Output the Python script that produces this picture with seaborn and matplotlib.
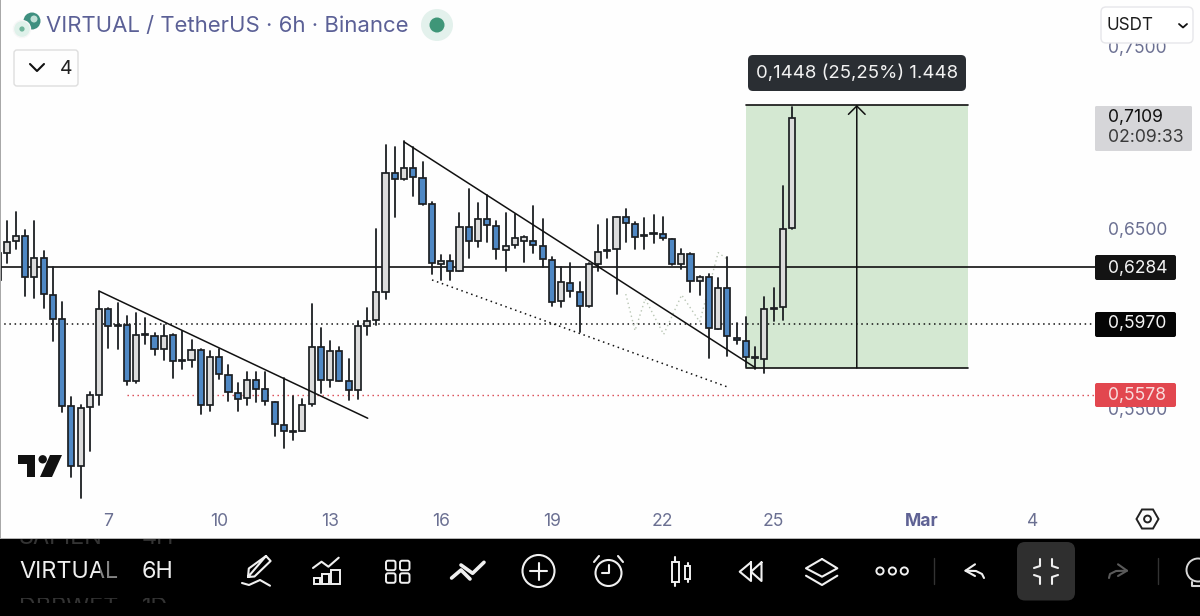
import numpy as np
import pandas as pd
import matplotlib
matplotlib.use("Agg")
import matplotlib.pyplot as plt
from matplotlib.patches import FancyBboxPatch, Rectangle, Circle, RegularPolygon, Polygon
import seaborn as sns

# ---------- data (prices) ----------
opens = [.6212,.6361,.6430,.6457,.6229,.6332,.6129,.5995,.5516,.5185,.5509,.5579,.6050,.5965,.5965,.5654,.5912,.5903,.5833,.5907,.5770,.5772,.5827,.5520,.5785,.5689,.5590,.5562,.5660,.5608,.5539,.5411,.5378,.5380,.5525,.5840,.5660,.5818,.5652,.5605,.5958,.5993,.6148,.6802,.6772,.6831,.6774,.6631,.6303,.6319,.6264,.6503,.6430,.6551,.6509,.6380,.6404,.6430,.6426,.6400,.6325,.6095,.6198,.6144,.6069,.6301,.6380,.6386,.6559,.6524,.6459,.6470,.6465,.6437,.6303,.6354,.6207,.6229,.5944,.6170,.5894,.5877,.5787,.5776,.6054,.6061,.6500]
closes = [.6360,.6424,.6457,.6229,.6332,.6135,.5997,.5518,.5185,.5503,.5575,.6054,.5958,.5958,.5656,.5907,.5907,.5833,.5903,.5765,.5765,.5827,.5520,.5785,.5695,.5593,.5557,.5660,.5612,.5542,.5415,.5376,.5372,.5522,.5840,.5660,.5818,.5654,.5603,.5956,.5988,.6144,.6802,.6770,.6831,.6780,.6632,.6305,.6316,.6264,.6507,.6428,.6550,.6515,.6384,.6400,.6445,.6448,.6404,.6327,.6093,.6200,.6150,.6069,.6301,.6367,.6373,.6559,.6526,.6452,.6454,.6465,.6443,.6303,.6356,.6207,.6229,.5945,.6170,.5901,.5881,.5785,.5782,.6054,.6060,.6496,.7109]
highs = [.6360,.6540,.6588,.6489,.6540,.6374,.6282,.6089,.5564,.5522,.5595,.6150,.6059,.6087,.6015,.6030,.6004,.5918,.5964,.5914,.5930,.5881,.5829,.5822,.5829,.5743,.5641,.5702,.5702,.5706,.5540,.5671,.5571,.5557,.6080,.5945,.5877,.5844,.5778,.5986,.6059,.6492,.6958,.6949,.6982,.6949,.6864,.6645,.6351,.6351,.6581,.6713,.6640,.6680,.6538,.6585,.6577,.6456,.6621,.6548,.6338,.6286,.6308,.6203,.6305,.6516,.6548,.6559,.6607,.6535,.6557,.6572,.6561,.6441,.6382,.6360,.6235,.6246,.6222,.6341,.5973,.6006,.5844,.6117,.6166,.6734,.7170]
lows = [.6212,.6304,.6382,.6124,.6111,.6059,.5873,.5483,.5124,.5011,.5266,.5520,.5837,.5829,.5634,.5645,.5857,.5800,.5770,.5674,.5719,.5730,.5470,.5487,.5667,.5546,.5487,.5523,.5538,.5523,.5350,.5284,.5328,.5378,.5516,.5590,.5623,.5652,.5549,.5558,.5907,.5962,.6105,.6559,.6765,.6677,.6625,.6246,.6213,.6213,.6264,.6334,.6393,.6424,.6329,.6264,.6387,.6312,.6360,.6282,.6069,.6061,.6120,.5927,.6061,.6264,.6334,.6135,.6422,.6384,.6382,.6419,.6433,.6295,.6271,.6146,.6131,.5782,.5940,.5793,.5859,.5734,.5723,.5701,.5984,.5992,.6496]

hline_solid = 0.6284
hline_dotted = 0.5970
hline_red = 0.5578
range_low, range_high = 0.5727, 0.7180
y_ticks = [0.55, 0.60, 0.65, 0.70, 0.75]
y_tick_labels = ["0,5500", "0,6000", "0,6500", "0,7000", "0,7500"]
x_tick_labels = ["7", "10", "13", "16", "19", "22", "25", "Mar", "4"]
x_tick_pos = [10, 22, 34, 46, 58, 70, 82, 98, 110]
trend_a_x, trend_a_y = [9.06, 38.07], [.6150, .5449]
trend_b_x, trend_b_y = [42.03, 80.06], [.6975, .5727]
trend_c_x, trend_c_y = [45.03, 77.1], [.6213, .5620]
zig_x = [66, 67, 68.1, 70.1, 72.05, 74, 76, 77]
zig_y = [.6135, .5933, .6108, .5912, .6130, .5982, .6364, .6327]

W, H = 1200, 616
AX_R, AX_B = 1095, 510
DX = 9.24
Y650, YK = 228.0, 1810.0

sns.set_theme(style="white")
plt.rcParams["font.family"] = ["Inter", "DejaVu Sans"]

fig = plt.figure(figsize=(12, 6.16), dpi=100, facecolor="#fefefe")
ax = fig.add_axes([0, (H - AX_B) / H, AX_R / W, AX_B / H], facecolor="#fefefe")

df = pd.DataFrame({"o": opens, "c": closes, "h": highs, "l": lows})
df["i"] = np.arange(len(df)) - 2
df["bottom"] = df[["o", "c"]].min(axis=1)
df["size"] = (df["o"] - df["c"]).abs()
up = df[df["c"] > df["o"]]
down = df[df["c"] <= df["o"]]

EDGE = "#1c1f22"
# target range zone
ax.add_patch(Rectangle((79, range_low), 24, range_high - range_low, fc="#d4e8d2", ec="none", zorder=0.5))

# horizontal levels
lvl_x = [-2, 118]
sns.lineplot(x=lvl_x, y=[hline_solid] * 2, color="#111111", lw=1.2, ax=ax, zorder=1.5, legend=False)
sns.lineplot(x=lvl_x, y=[hline_dotted] * 2, color="#111111", lw=1.1, linestyle=(0, (1, 2.4)), ax=ax, zorder=1.5, legend=False)
sns.lineplot(x=[12, 118], y=[hline_red] * 2, color="#d8404a", lw=1.0, linestyle=(0, (1, 2.6)), ax=ax, zorder=1.5, legend=False)

# wicks
wicks = pd.DataFrame({"i": np.r_[df["i"], df["i"]], "p": np.r_[df["h"], df["l"]]})
sns.lineplot(data=wicks, x="i", y="p", units="i", estimator=None, color=EDGE, lw=1.3, ax=ax, zorder=2, legend=False)

# bodies
for part, colour in ((up, "#dcdcdc"), (down, "#4f88c4")):
    sns.barplot(data=part, x="i", y="size", bottom=part["bottom"].to_numpy(), native_scale=True,
                width=0.66, color=colour, saturation=1, edgecolor=EDGE, linewidth=1.25,
                errorbar=None, ax=ax, zorder=3)

# drawings
sns.lineplot(x=trend_a_x, y=trend_a_y, color="#111111", lw=1.1, ax=ax, zorder=4, legend=False)
sns.lineplot(x=trend_b_x, y=trend_b_y, color="#111111", lw=1.1, ax=ax, zorder=4, legend=False)
sns.lineplot(x=trend_c_x, y=trend_c_y, color="#111111", lw=1.1, linestyle=(0, (1, 2.4)), ax=ax, zorder=4, legend=False)
sns.lineplot(x=zig_x, y=zig_y, color="#b9c6b4", lw=1.0, sort=False, estimator=None, linestyle=(0, (1, 2.2)), ax=ax, zorder=1.8, legend=False)
for level in (range_low, range_high):
    sns.lineplot(x=[79, 103], y=[level, level], color="#111111", lw=1.2, ax=ax, zorder=4, legend=False)
ax.annotate("", xy=(91, range_high), xytext=(91, range_low), zorder=4,
            arrowprops=dict(arrowstyle="->,head_length=0.25,head_width=0.25", color="#111111", lw=1.1,
                            mutation_scale=24, shrinkA=0, shrinkB=0))

# axes
ax.set_xlim((0 - 6.7) / DX - 1, (AX_R - 6.7) / DX - 1)
ax.set_ylim(0.65 - (AX_B - Y650) / YK, 0.65 + Y650 / YK)
ax.yaxis.tick_right()
ax.set_yticks(y_ticks, y_tick_labels)
ax.set_xticks(x_tick_pos, x_tick_labels)
ax.set_xlabel("")
ax.set_ylabel("")
ax.tick_params(axis="y", length=0, pad=9.4, labelsize=12.6, labelcolor="#6b7092")
ax.tick_params(axis="x", length=0, pad=1.9, labelsize=12.6, labelcolor="#6b7092")
for lab in ax.get_xticklabels():
    if lab.get_text() == "Mar":
        lab.set_fontweight("bold")
        lab.set_color("#5f6294")
sns.despine(ax=ax, left=True, right=True, top=True, bottom=True)

# ---------- overlay in pixel space ----------
ov = fig.add_axes([0, 0, 1, 1], facecolor="none", zorder=10)
ov.set_xlim(0, W)
ov.set_ylim(H, 0)
ov.axis("off")


def py(price):
    return Y650 - (price - 0.65) * YK


def rbox(x0, y0, x1, y1, r, fc, ec="none", lw=1, z=1):
    p = FancyBboxPatch((x0 + r, y0 + r), x1 - x0 - 2 * r, y1 - y0 - 2 * r, boxstyle=f"round,pad={r},rounding_size={r}",
                       fc=fc, ec=ec, lw=lw, zorder=z)
    ov.add_patch(p)
    return p


def L(pts, c="#f0f0f0", lw=1.5, z=3, **kw):
    xs, ys = zip(*pts)
    ov.plot(xs, ys, color=c, lw=lw, solid_capstyle="round", solid_joinstyle="round", zorder=z, **kw)


def T(x, y, s, c, size, ha="left", va="center", **kw):
    return ov.text(x, y + 1.5, s, color=c, fontsize=size, ha=ha, va=va, zorder=5, **kw)


# left border and toolbar
ov.add_patch(Rectangle((0, 0), 1.4, 538, fc="#a8a8a8", ec="none", zorder=1))
ov.add_patch(Rectangle((0, 539), W, 77, fc="#000000", ec="none", zorder=1))
ov.add_patch(Rectangle((0, 537.6), W, 1.4, fc="#b5b5b5", ec="none", zorder=1))

# header
T(46, 25, "VIRTUAL / TetherUS · 6h · Binance", "#5b6096", 15.95)
ov.add_patch(Circle((32, 21), 8.5, fc="#3f9080", ec="none", zorder=2))
ov.add_patch(Circle((34, 19), 3.5, fc="#bfe0d6", ec="none", zorder=2.1))
ov.add_patch(Circle((22, 29), 8.5, fc="#dff1ea", ec="#f7f7f7", lw=1, zorder=2.2))
ov.add_patch(Circle((22, 29), 2.6, fc="#6fb59b", ec="none", zorder=2.3))
ov.add_patch(Circle((437, 25), 16, fc="#e3f1ec", ec="none", zorder=2))
ov.add_patch(Circle((437, 25), 7.5, fc="#3f9678", ec="none", zorder=2.1))
rbox(14, 50, 78, 86, 3, "#fefefe", ec="#dedede", lw=1)
L([(30, 64), (37, 71), (44, 64)], c="#111111", lw=1.5)
T(60, 67.5, "4", "#222222", 14)
rbox(1101, 7, 1193, 43, 5, "#ffffff", ec="#e6e6ea", lw=1, z=2)
T(1106, 24.5, "USDT", "#1c1c1c", 12.3)
L([(1179, 24), (1183, 27.5), (1187, 24)], c="#111111", lw=1.3)

# logo
ov.add_patch(Polygon([(17.5, 455), (35, 455), (35, 477), (26.5, 477), (26.5, 463.5), (17.5, 463.5)], fc="#111111", ec="none", zorder=2))
ov.add_patch(Circle((42.7, 459.3), 4.2, fc="#111111", ec="none", zorder=2))
ov.add_patch(Polygon([(50, 455), (62, 455), (52, 477), (40, 477)], fc="#111111", ec="none", zorder=2))

# tooltip
rbox(748, 55, 966, 91, 5, "#2a2e33")
T(857, 71.5, "0,1448 (25,25%) 1.448", "#f2f2f2", 13.4, ha="center")

# price tags
rbox(1095, 106, 1192, 151, 1.5, "#d6d6d9", z=2)
T(1108, py(closes[-1]) - 1.5, "0,7109", "#111111", 12.6)
T(1108, 136.5, "02:09:33", "#3a3a3a", 12.7)
rbox(1095, 255, 1176, 280, 2, "#131313", z=2)
T(1108, py(hline_solid) - 0.5, "0,6284", "#f4f4f4", 12.6)
rbox(1095, 312, 1176, 337, 2, "#050505", z=2)
T(1108, py(hline_dotted) - 1.5, "0,5970", "#f4f4f4", 12.6)
rbox(1095, 383, 1176, 407, 2, "#e2474f", z=2)
T(1108, py(hline_red) - 0.5, "0,5578", "#f8dcdc", 12.6)

# hexagon settings icon
ov.add_patch(RegularPolygon((1147.5, 519), 6, radius=11, orientation=np.pi / 2, fc="none", ec="#222222", lw=1.4, zorder=3))
ov.add_patch(Circle((1147.5, 519), 3.4, fc="none", ec="#222222", lw=1.4, zorder=3))

# toolbar text
T(19, 570.5, "VIRTUAL", "#efefef", 16.9)
ov.add_patch(Rectangle((100, 556), 19, 32, fc="#000000", alpha=0.45, ec="none", zorder=6))
T(142, 570.5, "6H", "#efefef", 16.9)
clip_top = Rectangle((0, 539), 250, 8, transform=ov.transData)
clip_bot = Rectangle((0, 597.5), 250, 5.5, transform=ov.transData)
for x, s in ((19, "SAPIEN"), (142, "4H")):
    t = T(x, 537, s, "#343434", 16.9)
    t.set_clip_on(True)
    t.set_clip_path(clip_top)
for x, s in ((19, "DBRWET"), (142, "1D")):
    t = T(x, 606, s, "#343434", 16.9)
    t.set_clip_on(True)
    t.set_clip_path(clip_bot)

# toolbar icons
L([(248, 577), (266, 556), (270.6, 561), (254.5, 576.5), (248, 577), (248.8, 568.5), (266, 556)])
L([(242, 583), (249, 585), (260, 580), (270, 585.7)])
L([(313, 568), (321.5, 561.7), (328.4, 566.7), (338.7, 557.7)])
for x0, x1, y0 in ((314, 320, 578), (321.5, 329, 573.5), (331, 339.5, 570)):
    ov.add_patch(Rectangle((x0, y0), x1 - x0, 584 - y0, fc="none", ec="#f0f0f0", lw=1.4, zorder=3))
for x0 in (386, 400):
    for y0 in (560.7, 573.3):
        rbox(x0, y0, x0 + 9.5, y0 + 9.5, 2, "none", ec="#f0f0f0", lw=1.4, z=3)
L([(451.6, 578), (461, 570), (470, 579)], lw=2.6)
L([(461, 565), (472.6, 573.3), (484, 562.3)], lw=2.6)
ov.add_patch(Circle((538.5, 571), 16, fc="none", ec="#f0f0f0", lw=1.5, zorder=3))
L([(530, 571), (547, 571)])
L([(538.5, 562.5), (538.5, 579.5)])
ov.add_patch(Circle((608.5, 573), 13, fc="none", ec="#f0f0f0", lw=1.5, zorder=3))
L([(602, 573), (608.5, 573), (608.5, 565)])
L([(594, 562), (599, 556)])
L([(618, 556), (623, 562)])
L([(675.4, 556.7), (675.4, 586)])
ov.add_patch(Rectangle((672, 561.7), 6.5, 20.6, fc="#000000", ec="#f0f0f0", lw=1.4, zorder=3.5))
L([(687.6, 563), (687.6, 581.7)])
ov.add_patch(Rectangle((685, 565.7), 5, 13.3, fc="#000000", ec="#f0f0f0", lw=1.4, zorder=3.5))
L([(751, 562.3), (739.7, 571.7), (751, 581), (751, 562.3)])
L([(761.5, 562.3), (751, 571.7), (761.5, 581), (761.5, 562.3)])
L([(822, 559), (837.3, 568.3), (822, 576.7), (806, 568.3), (822, 559)])
L([(806, 575.7), (822, 585), (837.3, 575.7)])
for x in (880, 892.4, 904.3):
    ov.add_patch(Circle((x, 571), 3.6, fc="none", ec="#f0f0f0", lw=1.4, zorder=3))
for x in (933.7, 1158):
    L([(x, 557.7), (x, 584.3)], c="#333333", lw=1)
L([(975, 564.3), (965.5, 570.7), (975, 576)])
L([(965.5, 570.7), (976, 571), (982, 574), (984, 578)])
rbox(1017, 542, 1075, 600.5, 8, "#2f2f2f", z=2)
L([(1040, 559), (1040, 566), (1034, 568)])
L([(1052, 559), (1052, 566), (1058, 568)])
L([(1034, 575), (1040, 577), (1040, 584)])
L([(1058, 575), (1052, 577), (1052, 584)])
L([(1118, 564.3), (1127, 570.7), (1118, 576)], c="#5a5a5a")
L([(1127, 570.7), (1116, 571), (1110, 574), (1109, 578)], c="#5a5a5a")
ov.add_patch(Circle((1198, 570), 11.5, fc="none", ec="#d8d8d8", lw=1.4, zorder=3))
L([(1192, 582), (1192, 586), (1200, 586)], c="#d8d8d8")

fig.savefig("out.png", dpi=100, facecolor=fig.get_facecolor())
